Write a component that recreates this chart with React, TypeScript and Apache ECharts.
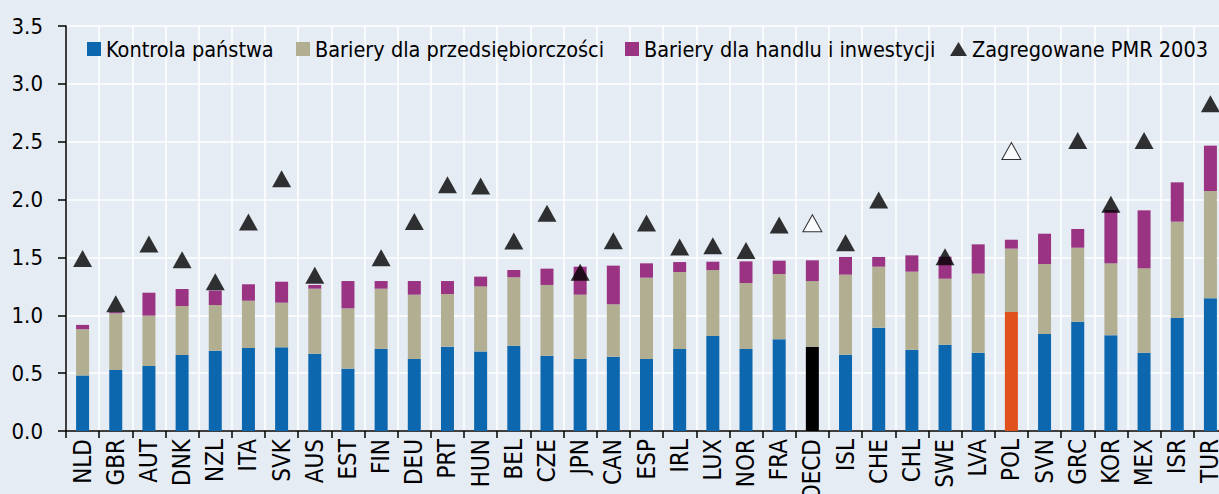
import React, { useEffect, useRef } from "react";
import * as echarts from "echarts";

const categories = ["NLD","GBR","AUT","DNK","NZL","ITA","SVK","AUS","EST","FIN","DEU","PRT","HUN","BEL","CZE","JPN","CAN","ESP","IRL","LUX","NOR","FRA","OECD","ISL","CHE","CHL","SWE","LVA","POL","SVN","GRC","KOR","MEX","ISR","TUR"];
const kontrola = [0.48,0.527,0.562,0.657,0.694,0.717,0.723,0.668,0.539,0.709,0.622,0.729,0.686,0.737,0.651,0.622,0.642,0.622,0.709,0.821,0.709,0.792,0.729,0.66,0.893,0.703,0.746,0.677,1.028,0.838,0.945,0.827,0.677,0.977,1.147];
const przedsiebiorczosc = [0.40,0.49,0.435,0.423,0.395,0.409,0.386,0.562,0.521,0.521,0.556,0.455,0.564,0.591,0.611,0.556,0.453,0.703,0.665,0.57,0.57,0.565,0.567,0.691,0.527,0.674,0.57,0.683,0.548,0.605,0.639,0.622,0.729,0.832,0.927];
const handel = [0.037,0.01,0.198,0.147,0.125,0.142,0.181,0.032,0.236,0.066,0.118,0.112,0.084,0.063,0.141,0.242,0.334,0.124,0.086,0.072,0.187,0.115,0.179,0.153,0.084,0.141,0.19,0.253,0.077,0.262,0.162,0.461,0.501,0.34,0.392];
const pmr2003 = [1.49,1.10,1.616,1.48,1.29,1.806,2.18,1.345,null,1.498,1.81,2.129,2.117,1.642,1.881,1.371,1.645,1.798,1.59,1.60,1.56,1.78,1.795,1.627,1.996,null,1.506,null,2.42,null,2.51,1.959,2.51,null,2.829];
const yTicks = ["0.0","0.5","1.0","1.5","2.0","2.5","3.0","3.5"];
const seriesNames = ["Kontrola państwa","Bariery dla przedsiębiorczości","Bariery dla handlu i inwestycji","Zagregowane PMR 2003"];
const legendIcons = ["rect","rect","rect","triangle"];
const legendLeft = [87, 296, 625, 950];

const FONT = "'Liberation Sans Narrow', 'Arial Narrow', 'DejaVu Sans Condensed', 'Liberation Sans', Arial, sans-serif";
const BLUE = "#0C67AE";
const BEIGE = "#B1AE92";
const PURPLE = "#993382";
const BG = "#E6ECF4";

export default function App() {
  const ref = useRef<HTMLDivElement>(null);
  useEffect(() => {
    if (!ref.current) return;
    const chart = echarts.init(ref.current, null, { renderer: "svg" });
    const blueData = kontrola.map((v, i) => {
      if (categories[i] === "OECD") return { value: v, itemStyle: { color: "#000000" } };
      if (categories[i] === "POL") return { value: v, itemStyle: { color: "#E0511D" } };
      return v;
    });
    const triData = pmr2003.map((v, i) => {
      if (v === null) return { value: null };
      if (categories[i] === "OECD" || categories[i] === "POL")
        return { value: v, itemStyle: { color: "#FFFFFF", borderColor: "#000000", borderWidth: 1 } };
      return v;
    });
    const legends = seriesNames.map((name, i) => ({
      left: legendLeft[i],
      top: 38,
      orient: "horizontal",
      padding: 0,
      itemWidth: i === 3 ? 17 : 14,
      itemHeight: 14,
      itemGap: 0,
      textStyle: { fontFamily: FONT, fontSize: 21.5, color: "#000", lineHeight: 22 },
      data: [{ name, icon: legendIcons[i] }],
    }));
    chart.setOption({
      animation: false,
      backgroundColor: BG,
      textStyle: { fontFamily: FONT },
      grid: { left: 66, right: -8, top: 26, bottom: 63, containLabel: false, outerBoundsMode: "none" },
      legend: legends,
      xAxis: {
        type: "category",
        data: categories,
        boundaryGap: true,
        axisLine: { show: true, lineStyle: { color: "#000", width: 1.5 } },
        axisTick: { show: true, length: 7, lineStyle: { color: "#000", width: 1.5 } },
        axisLabel: { rotate: 90, margin: 8, fontFamily: FONT, fontSize: 24, color: "#000", interval: 0 },
        splitLine: { show: true, lineStyle: { color: "#FFFFFF", width: 1.5 } },
      },
      yAxis: {
        type: "value",
        min: 0,
        max: 3.5,
        interval: 0.5,
        axisLine: { show: true, lineStyle: { color: "#000", width: 1.5 } },
        axisTick: { show: true, length: 8, lineStyle: { color: "#000", width: 1.5 } },
        axisLabel: {
          margin: 23,
          fontFamily: FONT,
          fontSize: 22,
          color: "#000",
          formatter: (v: number) => yTicks[Math.round(v / 0.5)] ?? v.toFixed(1),
        },
        splitLine: { show: true, lineStyle: { color: "#FFFFFF", width: 1.5 } },
      },
      series: [
        { name: seriesNames[0], type: "bar", stack: "a", barWidth: 13, itemStyle: { color: BLUE }, data: blueData },
        { name: seriesNames[1], type: "bar", stack: "a", barWidth: 13, itemStyle: { color: BEIGE }, data: przedsiebiorczosc },
        { name: seriesNames[2], type: "bar", stack: "a", barWidth: 13, itemStyle: { color: PURPLE }, data: handel },
        {
          name: seriesNames[3],
          type: "scatter",
          symbol: "triangle",
          symbolSize: [19, 17],
          z: 5,
          itemStyle: { color: "#000000" },
          data: triData,
        },
      ],
    });
    return () => chart.dispose();
  }, []);
  return (
    <div
      ref={ref}
      style={{ position: "fixed", left: 0, top: 0, width: 1219, height: 494 }}
    />
  );
}
